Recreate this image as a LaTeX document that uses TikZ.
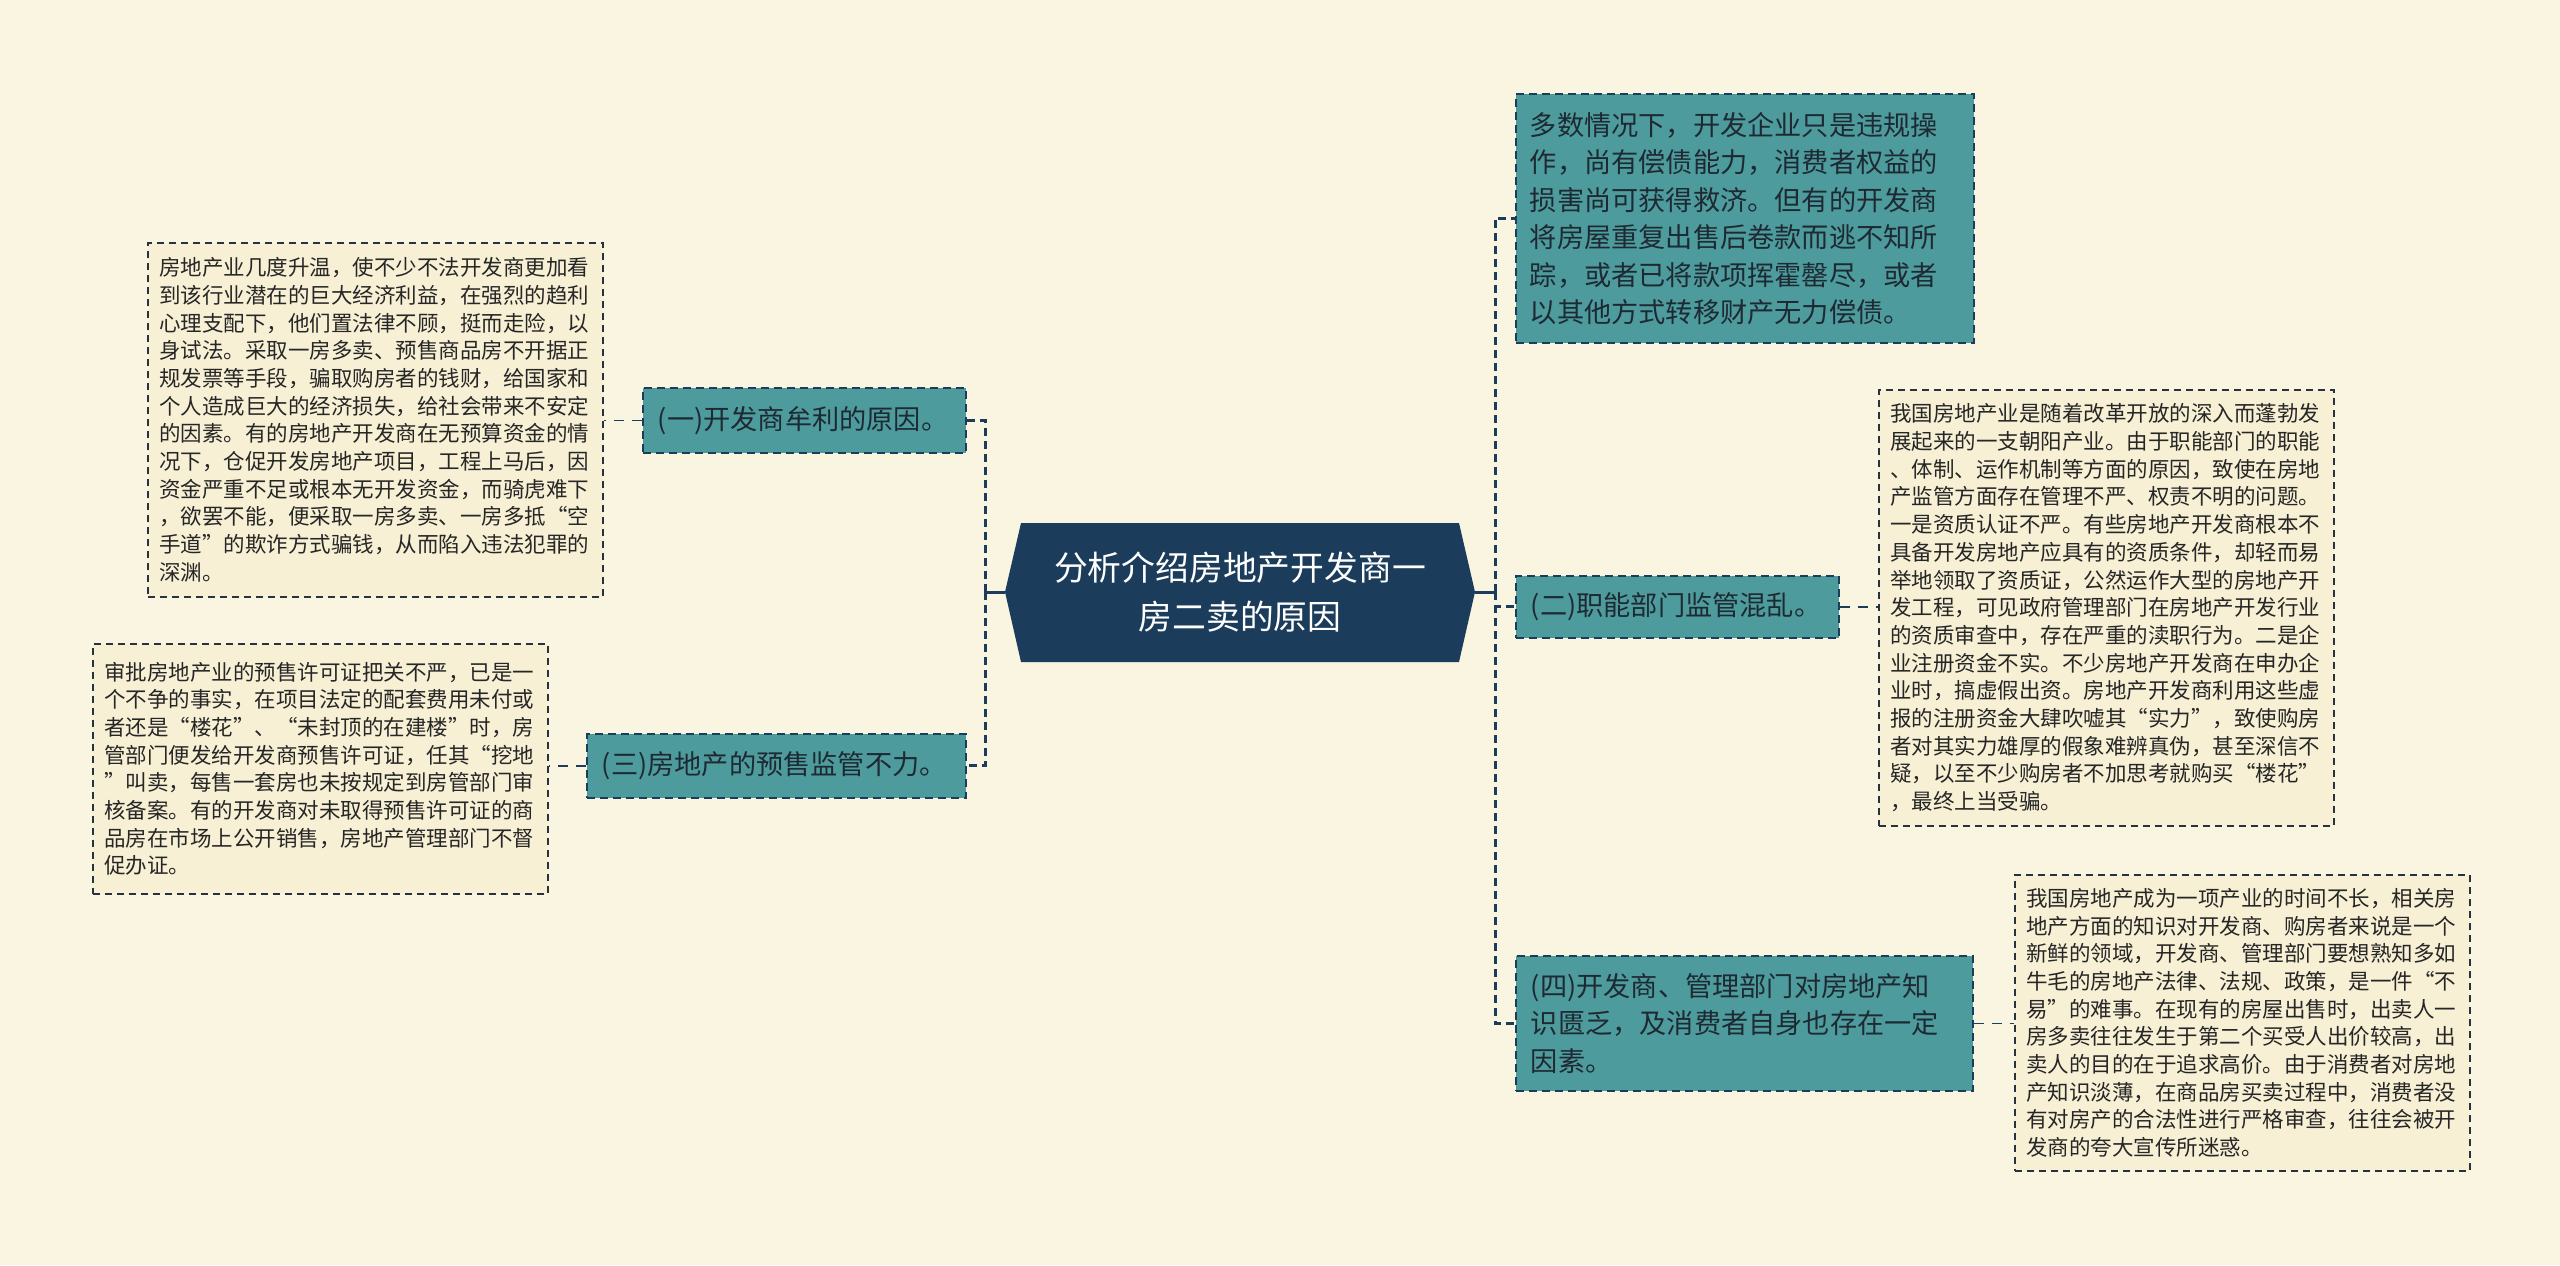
\documentclass[tikz,border=0pt]{standalone}
\usepackage{fontspec}
\setmainfont{Noto Sans CJK SC}
\definecolor{bgc}{HTML}{FAF5E1}
\definecolor{descfill}{HTML}{F7F0D5}
\definecolor{tealc}{HTML}{4E9B9D}
\definecolor{navy}{HTML}{1B3D5B}
\definecolor{txt}{HTML}{1E2A33}
\definecolor{descline}{HTML}{26323D}
\tikzset{
  descbox/.style={anchor=north west, draw=descline, fill=descfill, line width=0.8pt, dash pattern=on 3.5pt off 2.5pt, inner xsep=5.75pt, text width=216pt, align=left, text=black!85, font={\fontsize{10.75pt}{13.85pt}\selectfont}},
  tealbox/.style={anchor=north west, draw=navy, fill=tealc, line width=0.9pt, dash pattern=on 4pt off 2.5pt, inner xsep=7.5pt, align=left, text=txt, font={\fontsize{13.6pt}{18.75pt}\selectfont}},
  trunk/.style={draw=navy, line width=1.5pt, dash pattern=on 4pt off 2.5pt},
  twig/.style={draw=navy, line width=0.8pt, dash pattern=on 5pt off 4pt},
  root/.style={minimum width=235pt, minimum height=69.5pt, inner sep=0pt, text=white, align=center, font={\fontsize{16.9pt}{24.5pt}\selectfont}}
}
\begin{document}
\begin{tikzpicture}[x=0.5pt,y=-0.5pt]
\useasboundingbox (0,0) rectangle (2560,1265);
\fill[bgc] (0,0) rectangle (2560,1265);

% central hexagon
\fill[navy] (1005,592) -- (1021,523) -- (1459,523) -- (1475,592) -- (1459,662) -- (1021,662) -- cycle;
\node[root] (c) at (1240,592) {分析介绍房地产开发商一\\房二卖的原因};

% left branches
\node[tealbox, text width=146.5pt, minimum height=32.5pt] (n1) at (642,387) {(一)开发商牟利的原因。};
\node[tealbox, text width=174.5pt, minimum height=32pt] (n3) at (586,733) {(三)房地产的预售监管不力。};

\node[descbox, minimum height=177pt] (l1) at (147,242) {房地产业几度升温，使不少不法开发商更加看\\到该行业潜在的巨大经济利益，在强烈的趋利\\心理支配下，他们置法律不顾，挺而走险，以\\身试法。采取一房多卖、预售商品房不开据正\\规发票等手段，骗取购房者的钱财，给国家和\\个人造成巨大的经济损失，给社会带来不安定\\的因素。有的房地产开发商在无预算资金的情\\况下，仓促开发房地产项目，工程上马后，因\\资金严重不足或根本无开发资金，而骑虎难下\\，欲罢不能，便采取一房多卖、一房多抵“空\\手道”的欺诈方式骗钱，从而陷入违法犯罪的\\深渊。};

\node[descbox, minimum height=125pt] (l2) at (92,643) {审批房地产业的预售许可证把关不严，已是一\\个不争的事实，在项目法定的配套费用未付或\\者还是“楼花”、“未封顶的在建楼”时，房\\管部门便发给开发商预售许可证，任其“挖地\\”叫卖，每售一套房也未按规定到房管部门审\\核备案。有的开发商对未取得预售许可证的商\\品房在市场上公开销售，房地产管理部门不督\\促办证。};

% right branches
\node[tealbox, inner xsep=7pt, text width=215pt, minimum height=124.5pt] (t) at (1515,93) {多数情况下，开发企业只是违规操\\作，尚有偿债能力，消费者权益的\\损害尚可获得救济。但有的开发商\\将房屋重复出售后卷款而逃不知所\\踪，或者已将款项挥霍罄尽，或者\\以其他方式转移财产无力偿债。};
\node[tealbox, text width=146.5pt, minimum height=31pt] (n2) at (1515,575) {(二)职能部门监管混乱。};
\node[tealbox, text width=213.5pt, minimum height=67.5pt] (n4) at (1515,955) {(四)开发商、管理部门对房地产知\\识匮乏，及消费者自身也存在一定\\因素。};

\node[descbox, minimum height=218pt] (r1) at (1878,389) {我国房地产业是随着改革开放的深入而蓬勃发\\展起来的一支朝阳产业。由于职能部门的职能\\、体制、运作机制等方面的原因，致使在房地\\产监管方面存在管理不严、权责不明的问题。\\一是资质认证不严。有些房地产开发商根本不\\具备开发房地产应具有的资质条件，却轻而易\\举地领取了资质证，公然运作大型的房地产开\\发工程，可见政府管理部门在房地产开发行业\\的资质审查中，存在严重的渎职行为。二是企\\业注册资金不实。不少房地产开发商在申办企\\业时，搞虚假出资。房地产开发商利用这些虚\\报的注册资金大肆吹嘘其“实力”，致使购房\\者对其实力雄厚的假象难辨真伪，甚至深信不\\疑，以至不少购房者不加思考就购买“楼花”\\，最终上当受骗。};

\node[descbox, minimum height=148pt] (r2) at (2014,874) {我国房地产成为一项产业的时间不长，相关房\\地产方面的知识对开发商、购房者来说是一个\\新鲜的领域，开发商、管理部门要想熟知多如\\牛毛的房地产法律、法规、政策，是一件“不\\易”的难事。在现有的房屋出售时，出卖人一\\房多卖往往发生于第二个买受人出价较高，出\\卖人的目的在于追求高价。由于消费者对房地\\产知识淡薄，在商品房买卖过程中，消费者没\\有对房产的合法性进行严格审查，往往会被开\\发商的夸大宣传所迷惑。};

% connectors
\coordinate (jl) at (985,592);
\coordinate (jr) at (1495,592);
\draw[navy, line width=1.5pt] (c.west) -- (jl);
\draw[navy, line width=1.5pt] (c.east) -- (jr);
\draw[trunk] (jl) |- (n1.east);
\draw[trunk] (jl) |- (n3.east);
\draw[trunk] (jr) |- (t.west);
\draw[trunk] (jr) |- (n2.west);
\draw[trunk] (jr) |- (n4.west);
\draw[twig] (n1.west) -- (n1.west -| l1.east);
\draw[twig] (n3.west) -- (n3.west -| l2.east);
\draw[twig] (n2.east) -- (n2.east -| r1.west);
\draw[twig] (n4.east) -- (n4.east -| r2.west);
\end{tikzpicture}
\end{document}
